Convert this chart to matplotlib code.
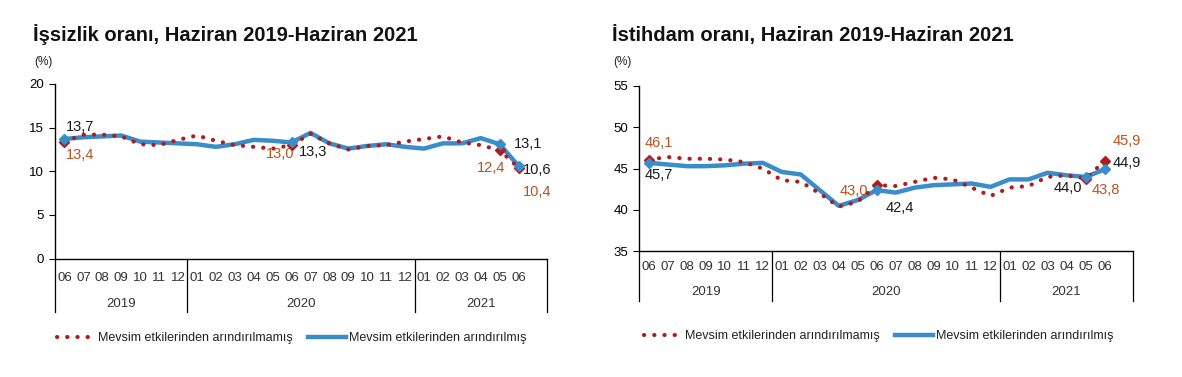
import numpy as np
import matplotlib
matplotlib.use('Agg')
import matplotlib.pyplot as plt
from matplotlib.lines import Line2D
from matplotlib.transforms import blended_transform_factory

plt.rcParams['font.family'] = ['Liberation Sans', 'DejaVu Sans']

months = ['06', '07', '08', '09', '10', '11', '12',
          '01', '02', '03', '04', '05', '06', '07', '08', '09', '10', '11', '12',
          '01', '02', '03', '04', '05', '06']
years = ['2019', '2020', '2021']
year_bounds = [0, 7, 19, 26]

# unemployment rate (%)
issizlik_ham = [13.4, 14.2, 14.2, 14.0, 13.1, 13.0, 13.6, 14.1, 13.5, 13.0, 12.8, 12.6, 13.0,
                14.3, 13.2, 12.5, 12.9, 13.0, 13.4, 13.7, 14.0, 13.3, 13.0, 12.4, 10.4]
issizlik_ma = [13.7, 13.9, 14.0, 14.1, 13.4, 13.3, 13.2, 13.1, 12.8, 13.1, 13.6, 13.5, 13.3,
               14.4, 13.2, 12.6, 12.9, 13.1, 12.8, 12.6, 13.2, 13.2, 13.8, 13.1, 10.6]

# employment rate (%)
istihdam_ham = [46.1, 46.4, 46.2, 46.2, 46.1, 45.8, 45.0, 43.6, 43.4, 42.0, 40.4, 41.0, 43.0,
                42.9, 43.4, 43.9, 43.7, 42.7, 41.7, 42.7, 42.9, 44.0, 44.2, 43.8, 45.9]
istihdam_ma = [45.7, 45.5, 45.3, 45.3, 45.4, 45.6, 45.7, 44.6, 44.3, 42.4, 40.5, 41.2, 42.4,
               42.1, 42.7, 43.0, 43.1, 43.2, 42.8, 43.7, 43.7, 44.5, 44.2, 44.0, 44.9]

RED = '#B01C1C'
BLUE = '#3A8DCB'
LBL_RED = '#B5541F'
LBL_BLK = '#1A1A1A'
DOTS = (0, (0.05, 2.4))

fig = plt.figure(figsize=(11.82, 3.77), dpi=100)


def draw_panel(ax, ham, ma, yticks, labels, title, title_x, dy_month, dy_year, div_len):
    x = np.arange(len(ham))
    ax.plot(x, ham, color=RED, lw=3.0, linestyle=DOTS, dash_capstyle='round', zorder=3)
    ax.plot(x, ma, color=BLUE, lw=3.2, solid_capstyle='round', zorder=2)
    mk = [0, 12, 23, 24]
    ax.plot(x[mk], np.array(ham)[mk], ls='none', marker='D', ms=5.5, color=RED, zorder=4)
    ax.plot(x[mk], np.array(ma)[mk], ls='none', marker='D', ms=5.5, color=BLUE, zorder=4)

    ax.set_xlim(-0.5, 25.5)
    ax.set_ylim(yticks[0], yticks[-1])
    ax.set_yticks(yticks)
    ax.tick_params(axis='y', direction='out', length=4, labelsize=9.5, pad=4, colors='black')
    ax.set_xticks([])
    for s in ['top', 'right']:
        ax.spines[s].set_visible(False)
    for s in ['left', 'bottom']:
        ax.spines[s].set_color('black')
        ax.spines[s].set_linewidth(1.0)

    tr = blended_transform_factory(ax.transData, ax.transAxes)
    for i, m in enumerate(months):
        ax.text(i, dy_month, m, transform=tr, ha='center', va='center',
                fontsize=9.5, color='#333333')
    for k, yr in enumerate(years):
        a, b = year_bounds[k], year_bounds[k + 1]
        ax.text((a + b) / 2 - 0.5, dy_year, yr, transform=tr, ha='center', va='center',
                fontsize=9.5, color='#333333')
    for b in year_bounds:
        ax.add_line(Line2D([b - 0.5, b - 0.5], [0, -div_len], transform=tr,
                           color='black', lw=0.9, clip_on=False))

    for idx, series, text, dx, dy, col in labels:
        val = ham[idx] if series == 'h' else ma[idx]
        ax.annotate(text, (idx, val), xytext=(dx * 0.72, -dy * 0.72),
                    textcoords='offset points', ha='center', va='center',
                    fontsize=10.5, color=col)

    fig.text(title_x, 1 - 35 / 377, title, fontsize=14.5, fontweight='bold',
             ha='left', va='center', color='#111111')
    fig.text(title_x + 1 / 1182, 1 - 62 / 377, '(%)', fontsize=8.5,
             ha='left', va='center', color='#222222')


ax1 = fig.add_axes([55 / 1182, 1 - 258.6 / 377, 492 / 1182, 174.6 / 377])
ax2 = fig.add_axes([639.4 / 1182, 1 - 251.3 / 377, 493.6 / 1182, 165.3 / 377])

lab1 = [
    (0, 'm', '13,7', 16, -12, LBL_BLK),
    (0, 'h', '13,4', 16, 13, LBL_RED),
    (12, 'h', '13,0', -11, 9, LBL_RED),
    (12, 'm', '13,3', 22, 10, LBL_BLK),
    (23, 'm', '13,1', 28, 0, LBL_BLK),
    (23, 'h', '12,4', -9, 18, LBL_RED),
    (24, 'm', '10,6', 19, 4, LBL_BLK),
    (24, 'h', '10,4', 19, 24, LBL_RED),
]
lab2 = [
    (0, 'h', '46,1', 10, -17, LBL_RED),
    (0, 'm', '45,7', 10, 12, LBL_BLK),
    (12, 'h', '43,0', -23, 6, LBL_RED),
    (12, 'm', '42,4', 23, 18, LBL_BLK),
    (23, 'm', '44,0', -18, 11, LBL_BLK),
    (23, 'h', '43,8', 20, 11, LBL_RED),
    (24, 'h', '45,9', 22, -20, LBL_RED),
    (24, 'm', '44,9', 22, -6, LBL_BLK),
]

draw_panel(ax1, issizlik_ham, issizlik_ma, [0, 5, 10, 15, 20], lab1,
           'İşsizlik oranı, Haziran 2019-Haziran 2021', 33 / 1182,
           -0.111, -0.26, 0.306)
draw_panel(ax2, istihdam_ham, istihdam_ma, [35, 40, 45, 50, 55], lab2,
           'İstihdam oranı, Haziran 2019-Haziran 2021', 612 / 1182,
           -0.095, -0.246, 0.30)

handles = [
    Line2D([0], [0], color=RED, lw=3.0, linestyle=DOTS, dash_capstyle='round',
           label='Mevsim etkilerinden arındırılmamış'),
    Line2D([0], [0], color=BLUE, lw=3.2, label='Mevsim etkilerinden arındırılmış'),
]
for cx, cy in [(292 / 1182, 1 - 338 / 377), (879 / 1182, 1 - 336 / 377)]:
    fig.legend(handles=handles, loc='center', bbox_to_anchor=(cx, cy), ncol=2,
               frameon=False, fontsize=9, handlelength=3.0, handletextpad=0.3,
               columnspacing=1.2, labelcolor='#222222')

fig.savefig('out.png', dpi=100)
